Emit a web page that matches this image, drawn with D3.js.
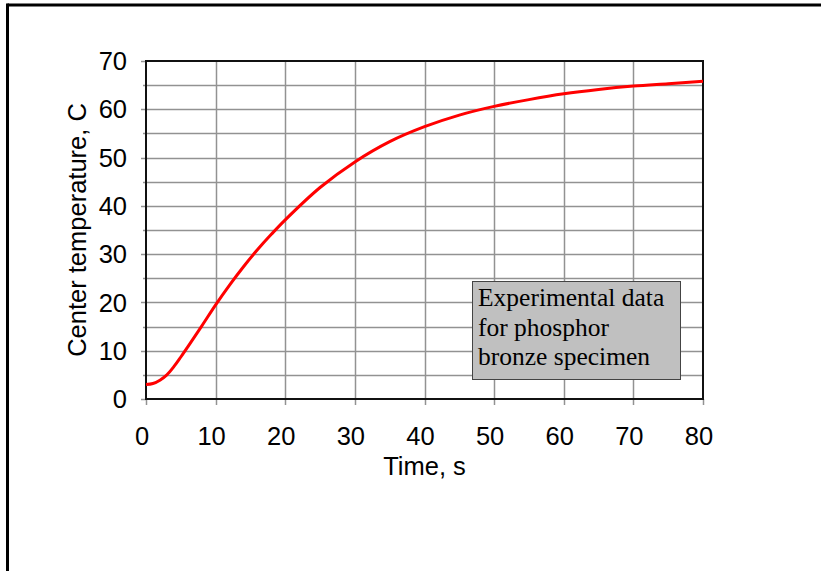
<!DOCTYPE html>
<html>
<head>
<meta charset="utf-8">
<script src="https://cdn.jsdelivr.net/npm/d3@7"></script>
<style>
  html, body { margin: 0; padding: 0; background: #fff; }
  svg { display: block; }
</style>
</head>
<body>
<svg id="chart" width="821" height="571"></svg>
<script>
// ---- data ----
const timeS = [0, 1, 2, 3, 4, 5, 6, 8, 10, 12, 14, 16, 18, 20, 25, 30, 35, 40, 45, 50, 55, 60, 65, 70, 75, 80];
const centerTempC = [3.0, 3.2, 3.9, 5.0, 6.7, 8.7, 10.8, 15.1, 19.5, 23.6, 27.4, 30.9, 34.1, 37.1, 43.8, 49.1, 53.3, 56.4, 58.8, 60.6, 62.0, 63.2, 64.1, 64.8, 65.3, 65.8];
const xTicks = [0, 10, 20, 30, 40, 50, 60, 70, 80];
const yTicks = [0, 10, 20, 30, 40, 50, 60, 70];
const yMinorGrid = [5, 15, 25, 35, 45, 55, 65];
const xLabel = "Time, s";
const yLabel = "Center temperature, C";
const noteLines = ["Experimental data", "for phosphor", "bronze specimen"];

const svg = d3.select("#chart");
const plot = { left: 146, right: 703, top: 61, bottom: 399 };

const x = d3.scaleLinear().domain([0, 80]).range([plot.left, plot.right]);
const y = d3.scaleLinear().domain([0, 70]).range([plot.bottom, plot.top]);

// outer frame (top and left edges visible)
svg.append("line").attr("x1", 7.5).attr("x2", 821).attr("y1", 5).attr("y2", 5)
  .attr("stroke", "#000").attr("stroke-width", 3);
svg.append("line").attr("x1", 7.5).attr("x2", 7.5).attr("y1", 3.5).attr("y2", 571)
  .attr("stroke", "#000").attr("stroke-width", 3);

const grid = svg.append("g");
// horizontal gridlines every 5
grid.selectAll("line.h").data(yTicks.concat(yMinorGrid).filter(v => v > 0 && v < 70))
  .join("line").attr("class", "h")
  .attr("x1", plot.left).attr("x2", plot.right)
  .attr("y1", d => Math.round(y(d)) + 0.5).attr("y2", d => Math.round(y(d)) + 0.5)
  .attr("stroke", "#929292").attr("stroke-width", 1.5);
// vertical gridlines every 10
grid.selectAll("line.v").data(xTicks.filter(v => v > 0 && v < 80))
  .join("line").attr("class", "v")
  .attr("x1", d => Math.round(x(d)) + 0.5).attr("x2", d => Math.round(x(d)) + 0.5)
  .attr("y1", plot.top).attr("y2", plot.bottom)
  .attr("stroke", "#929292").attr("stroke-width", 1.5);

// x-axis ticks below the axis
grid.selectAll("line.xt").data(xTicks)
  .join("line").attr("class", "xt")
  .attr("x1", d => Math.round(x(d)) + 0.5).attr("x2", d => Math.round(x(d)) + 0.5)
  .attr("y1", plot.bottom).attr("y2", plot.bottom + 6)
  .attr("stroke", "#929292").attr("stroke-width", 1.5);
// y-axis ticks left of the axis
grid.selectAll("line.yt").data(yTicks)
  .join("line").attr("class", "yt")
  .attr("x1", plot.left - 5).attr("x2", plot.left)
  .attr("y1", d => Math.round(y(d)) + 0.5).attr("y2", d => Math.round(y(d)) + 0.5)
  .attr("stroke", "#929292").attr("stroke-width", 1.5);
grid.selectAll("line.ymt").data(yMinorGrid)
  .join("line").attr("class", "ymt")
  .attr("x1", plot.left - 3).attr("x2", plot.left)
  .attr("y1", d => Math.round(y(d)) + 0.5).attr("y2", d => Math.round(y(d)) + 0.5)
  .attr("stroke", "#929292").attr("stroke-width", 1.5);

// plot frame
svg.append("rect")
  .attr("x", plot.left).attr("y", plot.top)
  .attr("width", plot.right - plot.left).attr("height", plot.bottom - plot.top)
  .attr("fill", "none").attr("stroke", "#111").attr("stroke-width", 2);

// tick labels
const font = "Arial, 'Liberation Sans', sans-serif";
svg.append("g").selectAll("text").data(yTicks).join("text")
  .attr("x", 127).attr("y", d => y(d))
  .attr("dy", "0.36em")
  .attr("text-anchor", "end")
  .attr("font-family", font).attr("font-size", 25.5)
  .attr("fill", "#000")
  .text(d => d);
svg.append("g").selectAll("text").data(xTicks).join("text")
  .attr("x", d => x(d) - 4).attr("y", 445)
  .attr("text-anchor", "middle")
  .attr("font-family", font).attr("font-size", 25.5)
  .attr("fill", "#000")
  .text(d => d);

// axis titles
svg.append("text")
  .attr("x", (plot.left + plot.right) / 2).attr("y", 475)
  .attr("text-anchor", "middle")
  .attr("font-family", font).attr("font-size", 25.5)
  .text(xLabel);
svg.append("text")
  .attr("transform", `translate(86,${(plot.top + plot.bottom) / 2}) rotate(-90)`)
  .attr("text-anchor", "middle")
  .attr("font-family", font).attr("font-size", 25.5)
  .text(yLabel);

// curve
const line = d3.line()
  .x((d, i) => x(timeS[i]))
  .y(d => y(d))
  .curve(d3.curveCatmullRom.alpha(0.5));
svg.append("path")
  .datum(centerTempC)
  .attr("d", line)
  .attr("fill", "none")
  .attr("stroke", "#ff0000")
  .attr("stroke-width", 3)
  .attr("stroke-linejoin", "round");

// note box
const note = svg.append("g");
note.append("rect")
  .attr("x", 472.5).attr("y", 281.5).attr("width", 208).attr("height", 98)
  .attr("fill", "#c0c0c0").attr("stroke", "#444").attr("stroke-width", 1);
note.selectAll("text").data(noteLines).join("text")
  .attr("x", 478).attr("y", (d, i) => 306 + i * 29.5)
  .attr("font-family", "'Times New Roman', 'Liberation Serif', serif")
  .attr("font-size", 25.5)
  .attr("fill", "#000")
  .text(d => d);
</script>
</body>
</html>
